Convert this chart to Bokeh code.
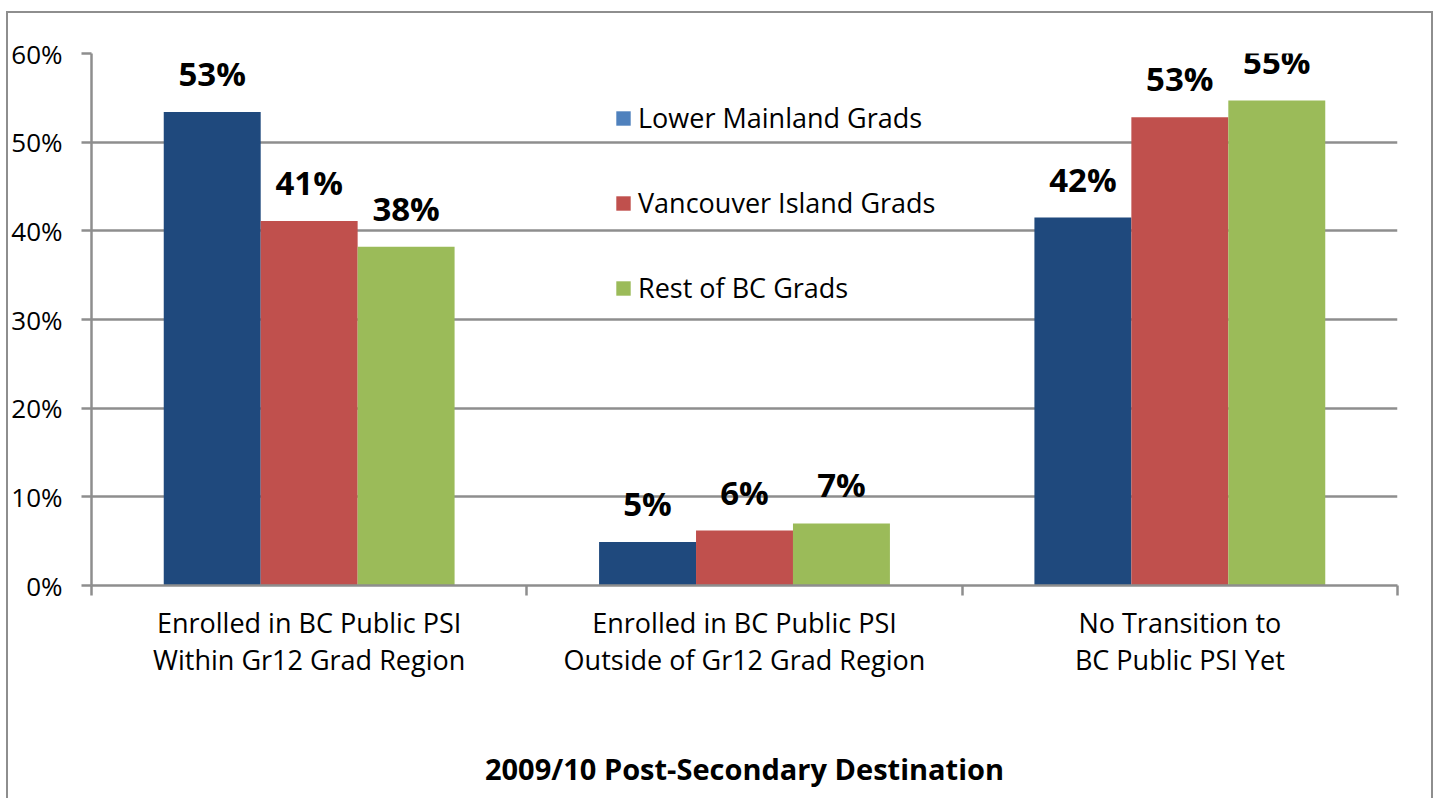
from bokeh.plotting import figure
from bokeh.models import ColumnDataSource, FixedTicker, Legend, LegendItem
from bokeh.transform import dodge
from bokeh.core.properties import value
from bokeh.embed import file_html
from bokeh.resources import INLINE

categories = ["Enrolled in BC Public PSI\nWithin Gr12 Grad Region",
              "Enrolled in BC Public PSI\nOutside of Gr12 Grad Region",
              "No Transition to\nBC Public PSI Yet"]
series = ["Lower Mainland Grads", "Vancouver Island Grads", "Rest of BC Grads"]
lower_mainland = [53.4, 4.9, 41.5]
vancouver_island = [41.1, 6.2, 52.8]
rest_of_bc = [38.2, 7.0, 54.7]
bar_colors = ["#1F497D", "#C0504D", "#9BBB59"]
legend_colors = ["#4F81BD", "#C0504D", "#9BBB59"]
y_ticks = [0, 10, 20, 30, 40, 50, 60]

FONT = "Open Sans"
GRAY = "#8e8e8e"

centers = [i + 0.5 for i in range(len(categories))]
src = ColumnDataSource(dict(
    x=centers,
    lm=lower_mainland, vi=vancouver_island, rb=rest_of_bc,
    lm_t=[f"{v:.0f}%" for v in lower_mainland],
    vi_t=[f"{v:.0f}%" for v in vancouver_island],
    rb_t=[f"{v:.0f}%" for v in rest_of_bc],
))

p = figure(width=1427, height=787, x_range=(0, 3), y_range=(0, 60),
           output_backend="svg", toolbar_location=None,
           min_border_left=81, min_border_right=38, min_border_top=40, min_border_bottom=215)
p.margin = (11, 0, 0, 6)
border = f"2px solid {GRAY}"
p.styles = {"border-left": border, "border-top": border, "border-right": border}
p.outline_line_color = None
p.xgrid.visible = False
p.ygrid.grid_line_color = GRAY
p.ygrid.grid_line_width = 2.5

bw = 0.2227
cols = ["lm", "vi", "rb"]
offs = [-bw, 0, bw]
legend_renderers = []
for c, o, col, lcol in zip(cols, offs, bar_colors, legend_colors):
    p.vbar(x=dodge("x", o), top=c, width=bw, source=src, fill_color=col, line_color=None)
    lr = p.vbar(x=dodge("x", o), top=c, width=bw, source=src, fill_color=lcol, line_color=None,
                visible=False)
    legend_renderers.append(lr)
    p.text(x=dodge("x", o), y=c, text=c + "_t", source=src, text_align="center",
           text_baseline="bottom", y_offset=-16, text_font=value(FONT),
           text_font_size="33px", text_font_style="bold", text_color="black")

items = [LegendItem(label=name, renderers=[r]) for name, r in zip(series, legend_renderers)]
leg = Legend(items=items, location=(523, 279), orientation="vertical",
             background_fill_alpha=0, border_line_color=None,
             inactive_fill_alpha=0,
             label_text_font=FONT, label_text_font_size="27px", label_text_color="#000000",
             glyph_width=18, glyph_height=18, label_standoff=6, spacing=48, padding=0, margin=0,
             click_policy="none")
p.add_layout(leg, "center")

# y axis
p.yaxis.ticker = FixedTicker(ticks=y_ticks)
p.yaxis.major_label_overrides = {t: f"{t}%" for t in y_ticks}
p.yaxis.axis_line_color = GRAY
p.yaxis.axis_line_width = 2.5
p.yaxis.major_tick_line_color = GRAY
p.yaxis.major_tick_line_width = 2.5
p.yaxis.major_tick_out = 10
p.yaxis.major_tick_in = 0
p.yaxis.minor_tick_line_color = None
p.yaxis.major_label_text_font = FONT
p.yaxis.major_label_text_font_size = "26px"
p.yaxis.major_label_text_color = "#000000"
p.yaxis.major_label_standoff = 19

# x axis
p.xaxis.ticker = FixedTicker(ticks=centers, minor_ticks=[0, 1, 2, 3])
p.xaxis.major_label_overrides = {c: lab for c, lab in zip(centers, categories)}
p.xaxis.axis_line_color = GRAY
p.xaxis.axis_line_width = 2.5
p.xaxis.major_tick_line_color = None
p.xaxis.major_tick_out = 10
p.xaxis.minor_tick_line_color = GRAY
p.xaxis.minor_tick_line_width = 2.5
p.xaxis.minor_tick_out = 10
p.xaxis.minor_tick_in = 0
p.xaxis.major_label_text_font = FONT
p.xaxis.major_label_text_font_size = "27px"
p.xaxis.major_label_text_line_height = 1.0
p.xaxis.major_label_text_color = "#000000"
p.xaxis.major_label_standoff = 8
p.xaxis.axis_label = "2009/10 Post-Secondary Destination"
p.xaxis.axis_label_text_font = FONT
p.xaxis.axis_label_text_font_size = "29px"
p.xaxis.axis_label_text_font_style = "bold"
p.xaxis.axis_label_text_color = "#000000"
p.xaxis.axis_label_standoff = 68

open("out.html", "w").write(file_html(p, INLINE))
